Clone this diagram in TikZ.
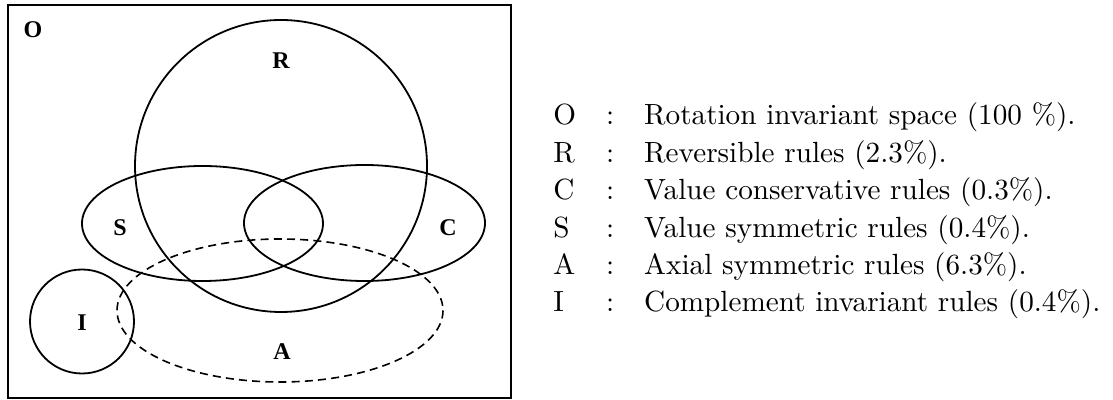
\documentclass[tikz,border=0pt]{standalone}
\usepackage{fontspec}
\usepackage{tikz}
\newfontfamily\setfont{Liberation Serif}
\newfontfamily\legendfont{lmroman10-regular}[Extension=.otf]

\begin{document}
\begin{tikzpicture}[
    x=0.5pt, y=-0.5pt,
    setline/.style={line width=0.9pt},
    frameline/.style={line width=0.8pt},
    axial/.style={line width=0.8pt, dash pattern=on 4pt off 2.6pt},
    lbl/.style={font=\setfont\fontsize{12}{14}\selectfont\bfseries, inner sep=0pt},
]
\useasboundingbox (0,0) rectangle (1113,400);

% Frame
\draw[frameline] (8,5) rectangle (511,398);

% Sets
\draw[setline] (281,166) circle [radius=146];
\draw[setline] (202.5,223.5) ellipse [x radius=120.5, y radius=57.5];
\draw[setline] (364.5,223) ellipse [x radius=120.5, y radius=58];
\draw[axial] (280,310.5) ellipse [x radius=163, y radius=71.5];
\draw[setline] (82,321.5) circle [radius=52];

% Labels
\node[lbl] (labO) at (33,30) {O};
\node[lbl] (labR) at (281,61) {R};
\node[lbl] (labS) at (120,228) {S};
\node[lbl] (labC) at (448,228) {C};
\node[lbl] (labI) at (82,323) {I};
\node[lbl] (labA) at (282,352) {A};

% Legend
\node[anchor=base west, inner sep=0pt, font=\legendfont\fontsize{14.6}{18.7}\selectfont] (legend) at (553,125) {%
  \setlength{\tabcolsep}{7.5pt}%
  \begin{tabular}[t]{@{}lcl@{}}
    O & : & Rotation invariant space (100 \%).\\
    R & : & Reversible rules (2.3\%).\\
    C & : & Value conservative rules (0.3\%).\\
    S & : & Value symmetric rules (0.4\%).\\
    A & : & Axial symmetric rules (6.3\%).\\
    I & : & Complement invariant rules (0.4\%).
  \end{tabular}};
\end{tikzpicture}
\end{document}
